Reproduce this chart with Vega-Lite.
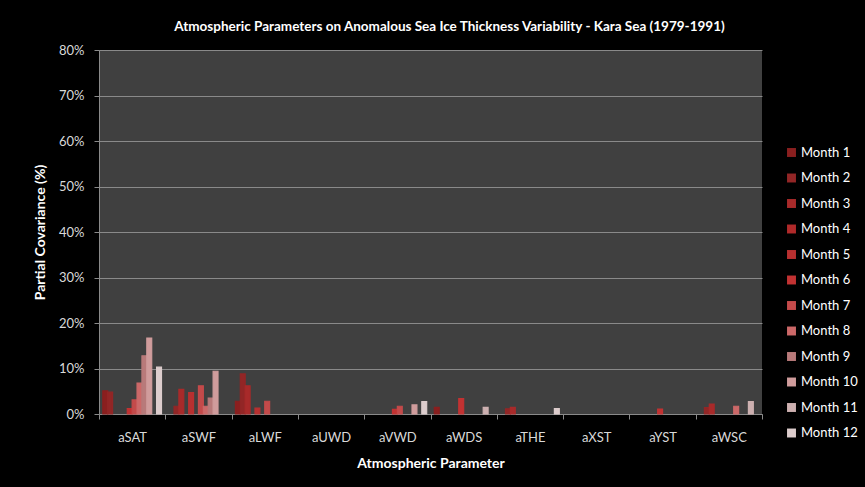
{
  "$schema": "https://vega.github.io/schema/vega-lite/v6.json",
  "width": 663,
  "height": 364,
  "autosize": "none",
  "padding": {"left": 99, "top": 50, "right": 103, "bottom": 73},
  "background": "black",
  "title": {
    "text": "Atmospheric Parameters on Anomalous Sea Ice Thickness  Variability - Kara Sea (1979-1991)",
    "color": "white",
    "font": "Lato",
    "fontSize": 13.5,
    "fontWeight": "bold",
    "anchor": "middle",
    "frame": "group",
    "baseline": "alphabetic",
    "offset": 0,
    "dx": 19
  },
  "data": {
    "values": [
      {"param": "aSAT", "month": "Month 1", "value": 0.051},
      {"param": "aSAT", "month": "Month 2", "value": 0.048},
      {"param": "aSAT", "month": "Month 6", "value": 0.012},
      {"param": "aSAT", "month": "Month 7", "value": 0.031},
      {"param": "aSAT", "month": "Month 8", "value": 0.068},
      {"param": "aSAT", "month": "Month 9", "value": 0.128},
      {"param": "aSAT", "month": "Month 10", "value": 0.167},
      {"param": "aSAT", "month": "Month 12", "value": 0.103},
      {"param": "aSWF", "month": "Month 2", "value": 0.017},
      {"param": "aSWF", "month": "Month 3", "value": 0.054},
      {"param": "aSWF", "month": "Month 5", "value": 0.047},
      {"param": "aSWF", "month": "Month 7", "value": 0.062},
      {"param": "aSWF", "month": "Month 8", "value": 0.017},
      {"param": "aSWF", "month": "Month 9", "value": 0.035},
      {"param": "aSWF", "month": "Month 10", "value": 0.094},
      {"param": "aLWF", "month": "Month 1", "value": 0.028},
      {"param": "aLWF", "month": "Month 2", "value": 0.088},
      {"param": "aLWF", "month": "Month 3", "value": 0.062},
      {"param": "aLWF", "month": "Month 5", "value": 0.013},
      {"param": "aLWF", "month": "Month 7", "value": 0.028},
      {"param": "aVWD", "month": "Month 6", "value": 0.010},
      {"param": "aVWD", "month": "Month 7", "value": 0.017},
      {"param": "aVWD", "month": "Month 10", "value": 0.020},
      {"param": "aVWD", "month": "Month 12", "value": 0.027},
      {"param": "aWDS", "month": "Month 1", "value": 0.0145},
      {"param": "aWDS", "month": "Month 6", "value": 0.034},
      {"param": "aWDS", "month": "Month 11", "value": 0.0145},
      {"param": "aTHE", "month": "Month 2", "value": 0.0115},
      {"param": "aTHE", "month": "Month 3", "value": 0.0145},
      {"param": "aTHE", "month": "Month 12", "value": 0.012},
      {"param": "aYST", "month": "Month 6", "value": 0.011},
      {"param": "aWSC", "month": "Month 2", "value": 0.014},
      {"param": "aWSC", "month": "Month 3", "value": 0.022},
      {"param": "aWSC", "month": "Month 8", "value": 0.017},
      {"param": "aWSC", "month": "Month 11", "value": 0.027}
    ]
  },
  "mark": {"type": "bar", "strokeWidth": 1.2},
  "encoding": {
    "x": {
      "field": "param",
      "type": "nominal",
      "sort": null,
      "scale": {
        "domain": ["aSAT", "aSWF", "aLWF", "aUWD", "aVWD", "aWDS", "aTHE", "aXST", "aYST", "aWSC"],
        "paddingInner": 0,
        "paddingOuter": 0
      },
      "axis": {
        "title": "Atmospheric Parameter",
        "titleColor": "white",
        "titleFont": "Lato",
        "titleFontSize": 14,
        "titleFontWeight": "bold",
        "titlePadding": 12,
        "labelAngle": 0,
        "labelColor": "#d9d9d9",
        "labelFont": "Lato",
        "labelFontSize": 13,
        "labelPadding": 12,
        "tickBand": "extent",
        "tickSize": 5,
        "tickColor": "#8a8a8a",
        "domainColor": "#8a8a8a",
        "grid": false
      }
    },
    "xOffset": {
      "field": "month",
      "type": "nominal",
      "scale": {
        "domain": ["Month 1", "Month 2", "Month 3", "Month 4", "Month 5", "Month 6", "Month 7", "Month 8", "Month 9", "Month 10", "Month 11", "Month 12"],
        "paddingInner": 0,
        "paddingOuter": 0.78
      }
    },
    "y": {
      "field": "value",
      "type": "quantitative",
      "scale": {"domain": [0, 0.8], "nice": false},
      "axis": {
        "title": "Partial Covariance (%)",
        "titleColor": "white",
        "titleFont": "Lato",
        "titleFontSize": 14,
        "titleFontWeight": "bold",
        "titlePadding": 11,
        "format": ".0%",
        "values": [0, 0.1, 0.2, 0.3, 0.4, 0.5, 0.6, 0.7, 0.8],
        "labelColor": "#d9d9d9",
        "labelFont": "Lato",
        "labelFontSize": 13,
        "labelPadding": 10,
        "tickSize": 5,
        "tickColor": "#8a8a8a",
        "domainColor": "#8a8a8a",
        "grid": true,
        "gridColor": "#8a8a8a",
        "gridWidth": 1
      }
    },
    "color": {
      "field": "month",
      "type": "nominal",
      "scale": {
        "domain": ["Month 1", "Month 2", "Month 3", "Month 4", "Month 5", "Month 6", "Month 7", "Month 8", "Month 9", "Month 10", "Month 11", "Month 12"],
        "range": ["#8a1f1f", "#922626", "#a82a2a", "#b02a2a", "#b83030", "#c23232", "#c44a4a", "#cc6868", "#b87a7a", "#d09c9c", "#cdb0b0", "#dccccc"]
      },
      "legend": {
        "orient": "none",
        "legendX": 686,
        "legendY": 96,
        "title": null,
        "symbolType": "square",
        "symbolSize": 80,
        "symbolStrokeWidth": 0,
        "labelColor": "white",
        "labelFont": "Lato",
        "labelFontSize": 13,
        "labelOffset": 3,
        "rowPadding": 11.5
      }
    },
    "stroke": {
      "field": "month",
      "type": "nominal",
      "scale": {
        "domain": ["Month 1", "Month 2", "Month 3", "Month 4", "Month 5", "Month 6", "Month 7", "Month 8", "Month 9", "Month 10", "Month 11", "Month 12"],
        "range": ["#8a1f1f", "#922626", "#a82a2a", "#b02a2a", "#b83030", "#c23232", "#c44a4a", "#cc6868", "#b87a7a", "#d09c9c", "#cdb0b0", "#dccccc"]
      },
      "legend": null
    }
  },
  "config": {
    "view": {"fill": "#404040", "stroke": null}
  }
}
